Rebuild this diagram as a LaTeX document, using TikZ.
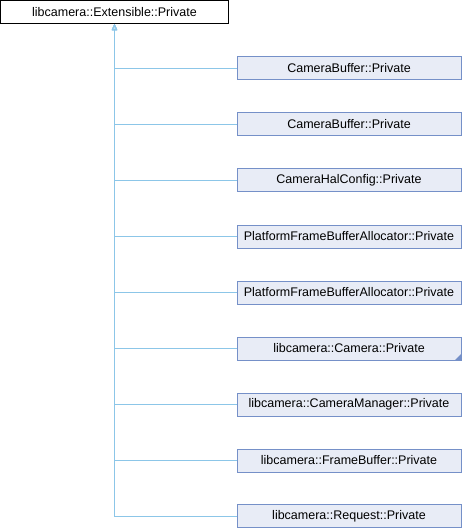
\documentclass[tikz,border=0pt]{standalone}
\usepackage{fontspec}
\setmainfont{Liberation Sans}
\usetikzlibrary{arrows.meta}

\definecolor{boxfill}{HTML}{E8ECF6}
\definecolor{boxline}{HTML}{7590C8}
\definecolor{edgeblue}{HTML}{8CC6E8}

\tikzset{
	basebox/.style={draw=black, fill=white, line width=1pt, minimum width=228pt,
		minimum height=23pt, inner sep=0pt, font=\fontsize{12.5}{14}\selectfont},
	classbox/.style={draw=boxline, fill=boxfill, line width=1pt, minimum width=224pt,
		minimum height=23pt, inner sep=0pt, font=\fontsize{12.5}{14}\selectfont},
	inherit/.style={draw=edgeblue, line width=1pt,
		{Triangle[open, length=6pt, width=5pt, fill=edgeblue!50]}-}
}

\begin{document}
\begin{tikzpicture}[x=1pt,y=-1pt]
%Rahmen
\useasboundingbox (0,0) rectangle (462,528);

%Basisklasse
\node[basebox] (base) at (114.5,12) {libcamera::Extensible::Private};

%abgeleitete Klassen
\node[classbox] (cb1) at (349,68) {CameraBuffer::Private};
\node[classbox] (cb2) at (349,124) {CameraBuffer::Private};
\node[classbox] (hal) at (349,180) {CameraHalConfig::Private};
\node[classbox] (pfa1) at (349,236.5) {PlatformFrameBufferAllocator::Private};
\node[classbox] (pfa2) at (349,292.5) {PlatformFrameBufferAllocator::Private};
\node[classbox] (cam) at (349,348.5) {libcamera::Camera::Private};
\node[classbox] (mgr) at (349,404.5) {libcamera::CameraManager::Private};
\node[classbox] (fb) at (349,460.5) {libcamera::FrameBuffer::Private};
\node[classbox] (req) at (349,516) {libcamera::Request::Private};

%Ecke bei Camera::Private
\fill[boxline] (cam.south east) -- ++(0,-7) -- ++(-7,7) -- cycle;

%Vererbung
\draw[inherit] (base.south) |- (cb1.west);
\draw[inherit] (base.south) |- (cb2.west);
\draw[inherit] (base.south) |- (hal.west);
\draw[inherit] (base.south) |- (pfa1.west);
\draw[inherit] (base.south) |- (pfa2.west);
\draw[inherit] (base.south) |- (cam.west);
\draw[inherit] (base.south) |- (mgr.west);
\draw[inherit] (base.south) |- (fb.west);
\draw[inherit] (base.south) |- (req.west);
\end{tikzpicture}
\end{document}
